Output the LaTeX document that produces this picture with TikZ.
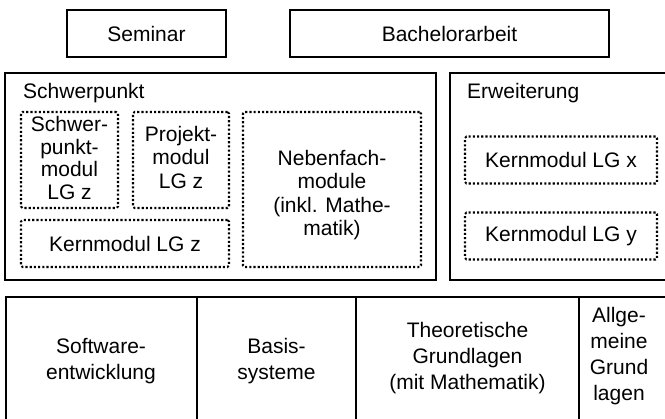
\documentclass[tikz,border=0pt]{standalone}
\usepackage{fontspec}
\setmainfont{Liberation Sans}
\begin{document}
\begin{tikzpicture}[x=1pt,y=-1pt,
  every node/.style={font=\fontsize{21}{23.5}\selectfont, inner sep=0pt, align=center},
  solidbox/.style={draw, line width=1.4pt},
  dotbox/.style={draw, line width=2.1pt, dash pattern=on 2.1pt off 2.1pt, rounded corners=1.5pt},
  solidline/.style={line width=1.4pt},
  basetext/.style={font=\fontsize{21}{26}\selectfont},
  tighttext/.style={font=\fontsize{21}{22.5}\selectfont}]
\useasboundingbox (0,0) rectangle (665,419);
% top boxes
\node[solidbox, minimum width=159pt, minimum height=47pt] (sem) at (146.5,33.5) {Seminar};
\node[solidbox, minimum width=319pt, minimum height=47pt] (ba) at (449.5,33.5) {Bachelorarbeit};
% Schwerpunkt
\node[solidbox, minimum width=431pt, minimum height=207pt] (sp) at (220.5,176.5) {};
\node[anchor=west] (sptitle) at (23,93) {Schwerpunkt};
\node[dotbox, minimum width=97pt, minimum height=96pt] (spm) at (69.5,160) {};
\node[tighttext] (spmt) at (69.5,158) {Schwer-\\punkt-\\modul\\LG z};
\node[dotbox, minimum width=96pt, minimum height=96pt] (pm) at (181,160) {};
\node (pmt) at (181,157) {Projekt-\\modul\\LG z};
\node[dotbox, minimum width=178pt, minimum height=155pt] (nf) at (332,189.5) {};
\node (nft) at (332,195) {Nebenfach-\\module\\(inkl. Mathe-\\matik)};
\node[dotbox, minimum width=208pt, minimum height=47pt] (kz) at (125,243.5) {Kernmodul LG z};
% Erweiterung
\coordinate (ew1) at (680,73);
\coordinate (ew2) at (450,73);
\coordinate (ew3) at (450,280);
\coordinate (ew4) at (680,280);
\draw[solidline] (ew1) -- (ew2) -- (ew3) -- (ew4);
\node[anchor=west] (ewtitle) at (467,93) {Erweiterung};
\node[dotbox, minimum width=192pt, minimum height=47pt] (kx) at (561,160) {Kernmodul LG x};
\node[dotbox, minimum width=192pt, minimum height=47pt] (ky) at (561,236) {Kernmodul LG y};
% bottom row
\coordinate (b0) at (6,297);
\coordinate (b1) at (197,297);
\coordinate (b2) at (356,297);
\coordinate (b3) at (579,297);
\coordinate (bR) at (680,297);
\coordinate (b0d) at (6,440);
\coordinate (b1d) at (197,440);
\coordinate (b2d) at (356,440);
\coordinate (b3d) at (579,440);
\draw[solidline] (b0d) -- (b0) -- (bR);
\draw[solidline] (b1) -- (b1d);
\draw[solidline] (b2) -- (b2d);
\draw[solidline] (b3) -- (b3d);
\node[basetext] (sw) at (101,361) {Software-\\entwicklung};
\node[basetext] (bs) at (276.5,361) {Basis-\\systeme};
\node[basetext] (tg) at (467.5,358) {Theoretische\\Grundlagen\\(mit Mathematik)};
\node[basetext] (ag) at (619,356) {Allge-\\meine\\Grund\\lagen};
\end{tikzpicture}
\end{document}
